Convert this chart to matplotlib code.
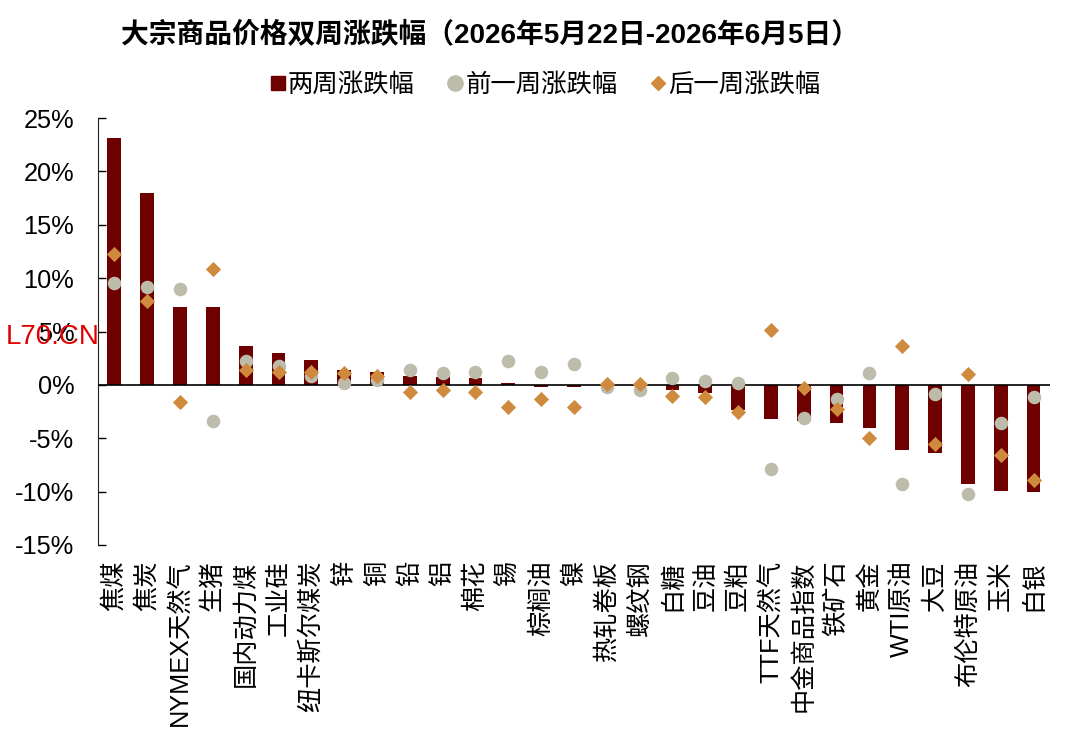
import matplotlib
matplotlib.use("Agg")
import matplotlib.pyplot as plt
from matplotlib.lines import Line2D
from matplotlib.ticker import FuncFormatter, MultipleLocator
import numpy as np

plt.rcParams["font.family"] = ["Noto Sans CJK SC", "DejaVu Sans"]
MIXED = ["Liberation Sans", "Noto Sans CJK SC", "DejaVu Sans"]

categories = [
    "焦煤", "焦炭", "NYMEX天然气", "生猪", "国内动力煤", "工业硅", "纽卡斯尔煤炭",
    "锌", "铜", "铅", "铝", "棉花", "锡", "棕榈油", "镍", "热轧卷板", "螺纹钢",
    "白糖", "豆油", "豆粕", "TTF天然气", "中金商品指数", "铁矿石", "黄金",
    "WTI原油", "大豆", "布伦特原油", "玉米", "白银",
]
two_week = [
    23.1, 18.0, 7.3, 7.25, 3.65, 3.0, 2.35, 1.35, 1.2, 0.8, 0.7, 0.6, 0.15,
    -0.2, -0.2, 0.05, -0.05, -0.5, -0.8, -2.35, -3.2, -3.35, -3.6, -4.0,
    -6.1, -6.35, -9.3, -9.95, -10.0,
]
prev_week = [
    9.5, 9.2, 9.0, -3.4, 2.2, 1.8, 0.85, 0.2, 0.45, 1.35, 1.15, 1.2, 2.2,
    1.25, 2.0, -0.2, -0.45, 0.6, 0.4, 0.2, -7.9, -3.1, -1.3, 1.1,
    -9.3, -0.9, -10.25, -3.55, -1.15,
]
next_week = [
    12.3, 7.9, -1.65, 10.9, 1.35, 1.25, 1.25, 1.1, 0.85, -0.65, -0.45, -0.65, -2.05,
    -1.35, -2.05, 0.05, 0.1, -1.0, -1.15, -2.5, 5.1, -0.25, -2.3, -5.0,
    3.6, -5.55, 1.05, -6.55, -8.95,
]

BAR_C = "#6E0000"
PREV_C = "#BDBCAA"
NEXT_C = "#CF8A3E"

fig = plt.figure(figsize=(10.8, 7.34), dpi=100)
ax = fig.add_axes([0.0907, 0.2575, 0.8815, 0.5817])

x = np.arange(len(categories))
ax.bar(x, two_week, width=0.42, color=BAR_C, zorder=2)
ax.axhline(0, color="black", lw=1.2, zorder=3)
ax.scatter(x, prev_week, s=95, marker="o", color=PREV_C, zorder=4, linewidths=0)
ax.scatter(x, next_week, s=60, marker="D", color=NEXT_C, zorder=5, linewidths=0)

ax.set_xlim(-0.5, len(categories) - 0.5)
ax.set_ylim(-15, 25)
ax.yaxis.set_major_locator(MultipleLocator(5))
ax.yaxis.set_major_formatter(FuncFormatter(lambda v, _: f"{v:.0f}%"))
for s in ["top", "right", "bottom"]:
    ax.spines[s].set_visible(False)
ax.spines["left"].set_color("#222222")
ax.tick_params(axis="y", direction="in", length=6, width=1, pad=17,
               labelsize=18.3, colors="black")
for lab in ax.get_yticklabels():
    lab.set_family(["Liberation Sans", "DejaVu Sans"])

ax.set_xticks(x)
ax.set_xticklabels(categories, rotation=90, fontsize=18.2, va="top",
                   family=MIXED)
ax.tick_params(axis="x", length=0, pad=11)

fig.text(0.4537, 0.951, "大宗商品价格双周涨跌幅（2026年5月22日-2026年6月5日）",
         ha="center", va="center", fontsize=20, fontweight="bold", family=MIXED)

handles = [
    Line2D([], [], ls="none", marker="s", color=BAR_C, markersize=10),
    Line2D([], [], ls="none", marker="o", color=PREV_C, markersize=11),
    Line2D([], [], ls="none", marker="D", color=NEXT_C, markersize=7.5),
]
fig.legend(handles, ["两周涨跌幅", "前一周涨跌幅", "后一周涨跌幅"],
           loc="center", bbox_to_anchor=(0.505, 0.884), ncol=3, frameon=False,
           fontsize=18.3, handlelength=0.6, handletextpad=0.1, columnspacing=1.3)

fig.text(0.005, 0.541, "L70.CN", color="#E00000", fontsize=20, ha="left",
         va="center", family=["Liberation Sans", "DejaVu Sans"])

fig.savefig("out.png", dpi=100)
